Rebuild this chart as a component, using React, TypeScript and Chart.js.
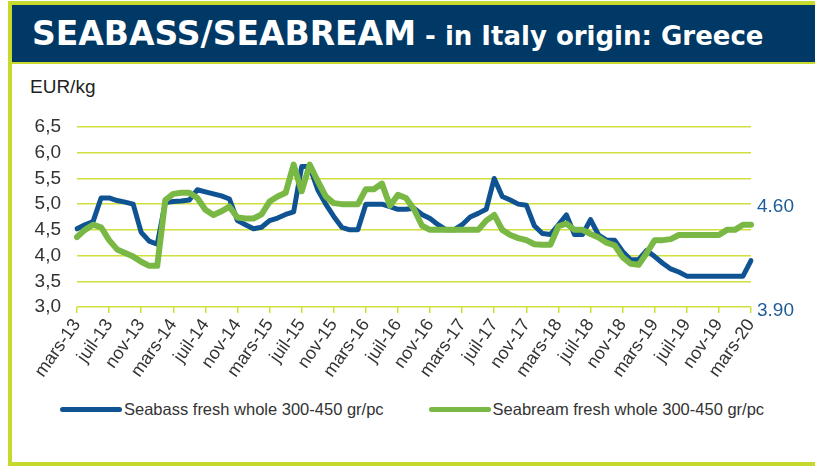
import React, { useEffect, useRef } from 'react';
import { Chart, registerables } from 'chart.js';

Chart.register(...registerables);

// Monthly categories, March 2013 .. March 2020 (French month abbreviations)
const frMonths = ['janv', 'févr', 'mars', 'avr', 'mai', 'juin', 'juil', 'août', 'sept', 'oct', 'nov', 'déc'];
const categories: string[] = [];
for (let yr = 13; yr <= 20; yr++) {
  for (let m = 0; m < 12; m++) {
    if ((yr === 13 && m < 2) || (yr === 20 && m > 2)) continue;
    categories.push(`${frMonths[m]}-${yr}`);
  }
}

// EUR/kg, Seabass fresh whole 300-450 gr/pc
const seabass = [
  4.52, 4.6, 4.66, 5.12, 5.12, 5.07, 5.04, 5.0, 4.45, 4.28,
  4.22, 5.03, 5.05, 5.06, 5.08, 5.28, 5.24, 5.2, 5.16, 5.1,
  4.68, 4.6, 4.52, 4.55, 4.68, 4.73, 4.8, 4.85, 5.73, 5.73,
  5.28, 5.0, 4.76, 4.55, 4.5, 4.5, 5.0, 5.0, 5.0, 4.95,
  4.9, 4.9, 4.92, 4.8, 4.72, 4.6, 4.5, 4.5, 4.6, 4.75,
  4.82, 4.9, 5.5, 5.15, 5.08, 5.0, 4.98, 4.58, 4.43, 4.41,
  4.6, 4.79, 4.41, 4.41, 4.7, 4.4, 4.3, 4.3, 4.08, 3.92,
  3.92, 4.1, 3.98, 3.85, 3.74, 3.68, 3.6, 3.6, 3.6, 3.6,
  3.6, 3.6, 3.6, 3.6, 3.9,
];

// EUR/kg, Seabream fresh whole 300-450 gr/pc
const seabream = [
  4.36, 4.5, 4.6, 4.55, 4.3, 4.12, 4.05, 3.98, 3.88, 3.8,
  3.8, 5.08, 5.2, 5.22, 5.22, 5.12, 4.89, 4.79, 4.86, 4.95,
  4.74, 4.72, 4.72, 4.8, 5.05, 5.15, 5.22, 5.77, 5.25, 5.77,
  5.45, 5.15, 5.02, 5.0, 5.0, 5.0, 5.29, 5.29, 5.4, 4.97,
  5.18, 5.12, 4.9, 4.58, 4.5, 4.5, 4.5, 4.5, 4.5, 4.5,
  4.5, 4.68, 4.79, 4.5, 4.4, 4.34, 4.3, 4.22, 4.21, 4.21,
  4.57, 4.62, 4.5, 4.5, 4.42, 4.35, 4.25, 4.2, 3.97, 3.84,
  3.82, 4.05, 4.3, 4.3, 4.32, 4.4, 4.4, 4.4, 4.4, 4.4,
  4.4, 4.5, 4.5, 4.6, 4.6,
];

const seriesNames = ['Seabass fresh whole 300-450 gr/pc', 'Seabream fresh whole 300-450 gr/pc'];
const seriesColors = ['#0f5393', '#79b844'];

// Labels shown at the right edge, anchored at a value of the left scale
const rightLabels = ['4.60', '3.90'];
const rightLabelAnchors = [4.95, 2.93];

const LIME = '#c6d92c';
const GRID = '#cfe03c';
const NAVY = '#003866';
const FONT = '"Liberation Sans", Arial, sans-serif';

const rightLabelPlugin = {
  id: 'rightLabels',
  afterDraw(chart: any) {
    const { ctx, chartArea, scales } = chart;
    ctx.save();
    ctx.font = `19px ${FONT}`;
    ctx.fillStyle = '#1d5c9c';
    ctx.textAlign = 'left';
    ctx.textBaseline = 'middle';
    rightLabels.forEach((t, i) => {
      ctx.fillText(t, chartArea.right + 6, scales.y.getPixelForValue(rightLabelAnchors[i]));
    });
    ctx.restore();
  },
};

export default function App() {
  const ref = useRef<HTMLCanvasElement | null>(null);

  useEffect(() => {
    if (!ref.current) return;
    const chart = new Chart(ref.current, {
      type: 'line',
      data: {
        labels: categories,
        datasets: [
          { label: seriesNames[0], data: seabass, borderColor: seriesColors[0], backgroundColor: seriesColors[0], borderWidth: 5, order: 1 },
          { label: seriesNames[1], data: seabream, borderColor: seriesColors[1], backgroundColor: seriesColors[1], borderWidth: 6, order: 0 },
        ],
      },
      options: {
        responsive: false,
        animation: false,
        layout: { padding: { top: 63, right: 64, left: 0, bottom: 0 } },
        plugins: { legend: { display: false }, tooltip: { enabled: false } },
        elements: {
          point: { radius: 0 },
          line: { tension: 0, borderJoinStyle: 'round', borderCapStyle: 'round' },
        },
        scales: {
          x: {
            type: 'category',
            grid: { drawOnChartArea: false, drawTicks: true, tickLength: 6, color: GRID, lineWidth: 1.5 },
            border: { display: false },
            ticks: {
              autoSkip: false,
              minRotation: 55,
              maxRotation: 55,
              padding: 2,
              color: '#333',
              font: { family: FONT, size: 18 },
              callback: (_v: any, i: number) => (i % 4 === 0 ? categories[i] : null),
            },
            afterFit: (s: any) => { s.height = 88; },
          },
          y: {
            min: 3,
            max: 6.5,
            grid: { drawTicks: false, color: GRID, lineWidth: 1.5 },
            border: { display: false },
            ticks: {
              stepSize: 0.5,
              autoSkip: false,
              padding: 16,
              color: '#333',
              font: { family: FONT, size: 19 },
              callback: (v: any) => Number(v).toFixed(1).replace('.', ','),
            },
            afterFit: (s: any) => { s.width = 65; },
          },
        },
      },
      plugins: [rightLabelPlugin],
    } as any);
    return () => chart.destroy();
  }, []);

  return (
    <div style={{ position: 'fixed', left: 0, top: 0, width: 815, height: 466, background: '#fff', overflow: 'hidden' }}>
      <div style={{ position: 'absolute', left: 8, top: 1, width: 830, height: 465, boxSizing: 'border-box', border: `4px solid ${LIME}` }} />
      <div style={{ position: 'absolute', left: 12, top: 5, width: 810, height: 57, background: NAVY, borderBottom: `2px solid ${LIME}` }} />
      <div style={{ position: 'absolute', left: 32, top: 14, whiteSpace: 'nowrap', color: '#fff', fontFamily: '"DejaVu Sans", Verdana, sans-serif', fontWeight: 'bold', lineHeight: '40px' }}>
        <span style={{ fontSize: 33 }}>SEABASS/SEABREAM</span>
        <span style={{ fontSize: 26 }}> - in Italy origin: Greece</span>
      </div>
      <div style={{ position: 'absolute', left: 30, top: 76, fontFamily: FONT, fontSize: 19, color: '#222' }}>EUR/kg</div>
      <canvas ref={ref} width={803} height={331} style={{ position: 'absolute', left: 12, top: 64, width: 803, height: 331 }} />
      <div style={{ position: 'absolute', left: 60, top: 400, display: 'flex', alignItems: 'center', gap: 45, fontFamily: FONT, fontSize: 16.5, color: '#333', whiteSpace: 'nowrap' }}>
        {seriesNames.map((n, i) => (
          <div key={n} style={{ display: 'flex', alignItems: 'center' }}>
            <span style={{ display: 'inline-block', width: 62, height: 5, borderRadius: 3, background: seriesColors[i], marginRight: 2 }} />
            <span>{n}</span>
          </div>
        ))}
      </div>
    </div>
  );
}
